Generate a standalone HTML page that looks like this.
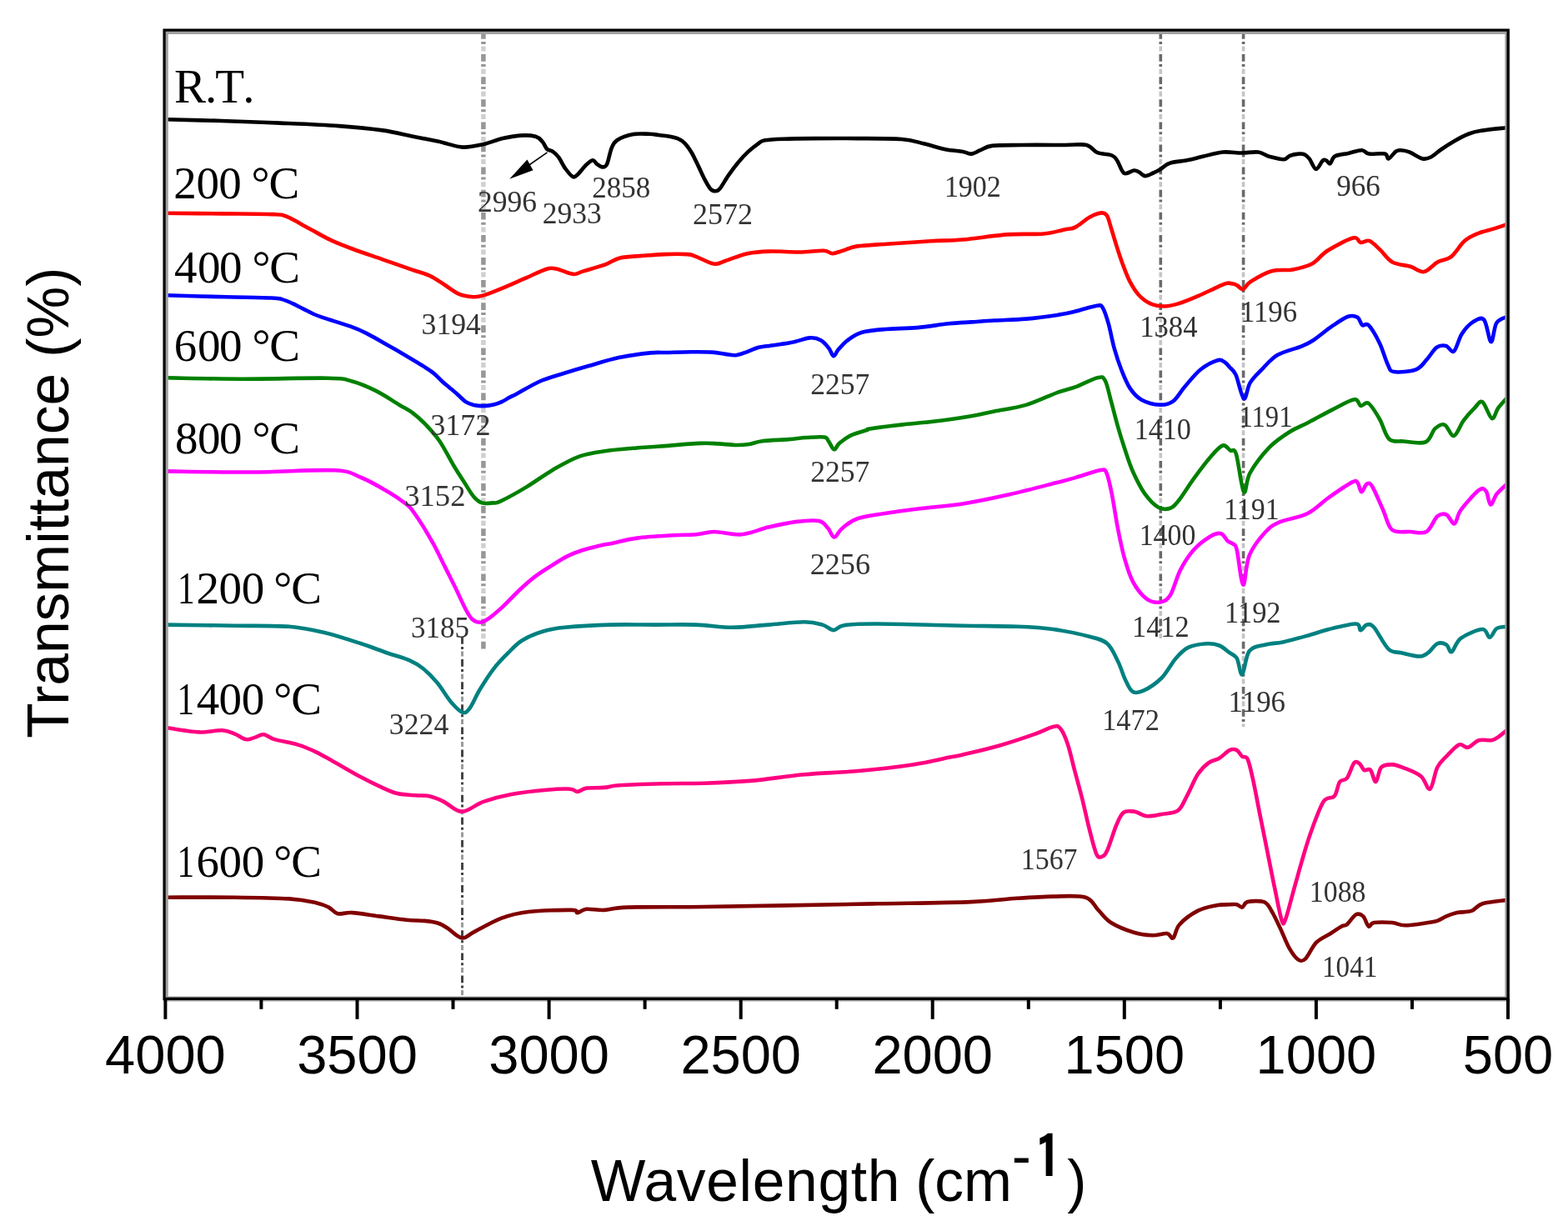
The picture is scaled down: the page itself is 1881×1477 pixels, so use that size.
<!DOCTYPE html><html><head><meta charset="utf-8"><title>FTIR spectra</title><style>html,body{margin:0;padding:0;background:#fff;overflow:hidden}svg{display:block}</style></head><body><svg width="1881" height="1477" viewBox="0 0 1881 1477">
<rect width="1881" height="1477" fill="#fff"/>
<g fill="none">
<line x1="579.9" y1="38" x2="579.9" y2="779" stroke="#d0d0d0" stroke-width="5.5" stroke-dasharray="6 21.1" stroke-dashoffset="-17.6"/>
<line x1="579.9" y1="38" x2="579.9" y2="779" stroke="#979797" stroke-width="5.5" stroke-dasharray="8.7 3.2 3 12.2"/>
<line x1="554.5" y1="764" x2="554.5" y2="1196" stroke="#9a9a9a" stroke-width="3" stroke-dasharray="6 21.1" stroke-dashoffset="-17.6"/>
<line x1="554.5" y1="764" x2="554.5" y2="1196" stroke="#454545" stroke-width="3" stroke-dasharray="8.7 3.2 3 12.2"/>
<line x1="1392.3" y1="38" x2="1392.3" y2="766" stroke="#c4c4c4" stroke-width="3.6" stroke-dasharray="6 21.1" stroke-dashoffset="-17.6"/>
<line x1="1392.3" y1="38" x2="1392.3" y2="766" stroke="#6a6a6a" stroke-width="3.6" stroke-dasharray="8.7 3.2 3 12.2"/>
<line x1="1491.6" y1="38" x2="1491.6" y2="872" stroke="#c4c4c4" stroke-width="3.6" stroke-dasharray="6 21.1" stroke-dashoffset="-17.6"/>
<line x1="1491.6" y1="38" x2="1491.6" y2="872" stroke="#6a6a6a" stroke-width="3.6" stroke-dasharray="8.7 3.2 3 12.2"/>
</g>

<path d="M198.5,143.2 C209.7,143.5 242.5,144.3 265.4,145.0 C288.3,145.7 312.3,146.6 335.8,147.6 C359.3,148.6 385.7,149.6 406.2,151.1 C426.7,152.6 444.3,154.3 459.0,156.4 C473.7,158.5 483.2,161.2 494.2,163.4 C505.2,165.6 518.6,168.3 525.0,169.6 C531.4,170.9 527.5,170.2 532.6,171.4 C537.7,172.6 547.6,176.3 555.5,176.6 C563.4,176.9 572.2,174.8 580.1,173.1 C588.0,171.3 595.7,167.8 603.0,166.1 C610.3,164.3 617.5,163.0 624.1,162.6 C630.7,162.2 638.0,162.6 642.4,163.8 C646.8,165.0 648.4,167.5 650.7,170.0 C653.0,172.5 654.2,177.0 656.3,179.0 C658.4,181.0 660.9,180.2 663.2,181.8 C665.5,183.4 667.6,185.2 670.1,188.7 C672.6,192.1 675.5,198.6 678.4,202.5 C681.3,206.4 684.9,211.2 687.4,212.2 C689.9,213.2 691.1,211.0 693.6,208.7 C696.1,206.4 699.7,201.2 702.6,198.4 C705.5,195.7 708.6,192.4 710.9,192.2 C713.2,192.0 714.4,195.6 716.4,197.0 C718.4,198.4 720.6,200.4 722.6,200.4 C724.6,200.4 726.2,200.8 728.1,197.0 C730.0,193.2 731.6,182.4 733.7,177.6 C735.8,172.8 736.2,170.8 740.6,168.0 C745.0,165.2 753.6,162.3 760.0,161.1 C766.4,159.9 774.0,160.7 779.0,160.8 C784.0,161.0 786.2,161.5 790.0,162.0 C793.8,162.5 798.0,162.8 802.0,163.6 C806.0,164.4 810.6,165.2 813.9,166.7 C817.2,168.1 819.2,169.5 821.9,172.3 C824.6,175.1 827.2,179.0 829.9,183.5 C832.5,188.0 835.1,194.0 837.8,199.4 C840.4,204.8 843.4,211.7 845.8,216.2 C848.2,220.7 850.2,224.4 852.2,226.6 C854.2,228.8 855.9,229.3 857.8,229.3 C859.7,229.3 860.8,229.7 863.4,226.6 C866.0,223.5 870.0,215.9 873.7,210.6 C877.4,205.3 881.7,199.5 885.7,194.7 C889.7,189.9 893.7,185.6 897.7,181.9 C901.7,178.2 906.3,174.6 909.6,172.3 C912.9,170.0 912.5,169.2 917.6,168.3 C922.7,167.4 930.3,167.1 940.0,166.7 C949.7,166.3 961.0,166.2 975.8,166.1 C990.6,166.0 1011.0,165.9 1028.6,166.1 C1046.2,166.2 1068.2,166.0 1081.4,167.0 C1094.6,168.0 1099.0,170.1 1107.8,172.2 C1116.6,174.2 1126.3,177.7 1134.2,179.3 C1142.1,180.9 1149.8,181.0 1155.0,181.9 C1160.2,182.8 1162.1,184.9 1165.6,184.6 C1169.1,184.3 1172.0,181.8 1176.1,180.2 C1180.2,178.6 1182.0,175.9 1190.2,174.9 C1198.4,173.9 1210.7,174.2 1225.4,174.0 C1240.1,173.8 1265.2,174.0 1278.2,174.0 C1291.2,174.0 1296.9,172.4 1303.3,173.9 C1309.7,175.4 1311.5,181.1 1316.6,183.2 C1321.7,185.3 1329.9,184.8 1333.9,186.5 C1337.9,188.2 1338.1,189.6 1340.5,193.2 C1342.9,196.8 1345.2,205.9 1348.5,207.8 C1351.8,209.7 1357.4,204.7 1360.4,204.5 C1363.4,204.3 1364.3,205.4 1366.5,206.5 C1368.7,207.6 1370.9,210.9 1373.7,211.1 C1376.5,211.3 1380.6,208.7 1383.5,207.5 C1386.4,206.3 1387.8,205.8 1391.0,203.8 C1394.2,201.9 1397.7,197.7 1403.0,195.8 C1408.3,193.9 1416.3,193.8 1422.9,192.5 C1429.5,191.2 1435.5,189.5 1442.8,187.8 C1450.1,186.1 1459.0,183.2 1466.8,182.5 C1474.6,181.8 1482.3,183.5 1489.4,183.5 C1496.5,183.5 1503.8,181.8 1509.3,182.5 C1514.8,183.2 1517.5,186.4 1522.6,187.8 C1527.7,189.2 1535.9,191.4 1540.0,191.2 C1544.1,191.0 1544.4,187.9 1547.3,186.8 C1550.2,185.7 1554.6,184.8 1557.5,184.6 C1560.4,184.3 1562.7,184.3 1564.9,185.3 C1567.1,186.3 1568.4,187.5 1570.7,190.4 C1573.0,193.3 1576.0,202.5 1578.7,202.9 C1581.4,203.3 1584.7,194.3 1586.8,192.6 C1588.9,190.9 1589.7,192.0 1591.2,192.6 C1592.7,193.2 1593.9,197.2 1595.6,196.3 C1597.3,195.5 1597.8,189.6 1601.4,187.5 C1605.1,185.4 1612.1,185.1 1617.5,183.9 C1622.9,182.7 1629.5,180.1 1633.6,180.2 C1637.7,180.3 1637.7,183.9 1642.3,184.6 C1646.9,185.3 1657.4,183.6 1661.3,184.6 C1665.2,185.6 1663.5,190.9 1665.7,190.4 C1667.9,189.9 1672.1,183.4 1674.5,181.7 C1676.9,180.0 1677.6,180.1 1680.3,180.2 C1683.0,180.3 1686.2,180.7 1690.6,182.4 C1695.0,184.1 1702.3,189.4 1706.7,190.4 C1711.1,191.4 1713.2,190.0 1716.9,188.2 C1720.6,186.4 1724.0,182.7 1728.6,179.5 C1733.2,176.3 1739.1,172.4 1744.7,169.2 C1750.3,166.0 1756.9,162.6 1762.2,160.5 C1767.5,158.4 1769.2,158.0 1776.8,156.8 C1784.3,155.6 1802.4,153.8 1807.5,153.2" fill="none" stroke="#000000" stroke-width="4.6" stroke-linejoin="round" stroke-linecap="round"/>
<path d="M198.5,255.8 C209.7,255.9 244.0,256.2 265.4,256.4 C286.8,256.6 313.8,256.5 327.0,257.1 C340.2,257.7 337.3,257.3 344.6,260.2 C351.9,263.1 362.2,269.6 371.0,274.3 C379.8,279.0 388.6,284.3 397.4,288.4 C406.2,292.5 413.5,295.2 423.8,299.0 C434.1,302.8 447.3,307.2 459.0,311.3 C470.7,315.4 484.9,320.4 494.2,323.6 C503.5,326.8 508.6,327.7 515.0,330.6 C521.4,333.5 526.7,337.5 532.6,341.2 C538.5,344.9 544.3,350.1 550.2,352.6 C556.1,355.1 562.8,355.9 567.8,356.2 C572.8,356.5 574.2,356.2 580.1,354.4 C586.0,352.6 594.8,349.0 603.0,345.6 C611.2,342.2 620.6,338.0 629.4,334.2 C638.2,330.4 649.3,324.6 655.8,322.7 C662.2,320.8 662.8,321.7 668.1,322.7 C673.4,323.7 682.2,328.4 687.5,328.9 C692.8,329.3 693.3,327.3 699.8,325.4 C706.2,323.5 718.9,320.0 726.2,317.4 C733.5,314.8 736.5,311.2 743.8,309.5 C751.1,307.8 761.4,307.6 770.2,306.9 C779.0,306.2 787.5,305.4 796.6,305.1 C805.7,304.8 818.3,304.7 824.7,305.1 C831.1,305.6 829.8,305.9 835.0,307.8 C840.2,309.7 850.2,315.7 856.1,316.6 C862.0,317.5 863.5,315.1 870.2,313.0 C877.0,310.9 887.8,306.1 896.6,304.2 C905.4,302.3 912.7,301.9 923.0,301.6 C933.3,301.3 947.4,302.6 958.2,302.5 C969.1,302.4 981.4,300.4 988.1,300.7 C994.9,301.0 994.9,304.2 998.7,304.2 C1002.5,304.2 1006.0,302.2 1011.0,300.7 C1016.0,299.2 1019.8,296.7 1028.6,295.4 C1037.4,294.1 1049.1,293.8 1063.8,292.8 C1078.5,291.8 1101.4,290.2 1116.6,289.3 C1131.8,288.4 1139.8,288.8 1155.0,287.5 C1170.2,286.2 1191.7,282.6 1207.8,281.4 C1223.9,280.2 1240.1,281.5 1251.8,280.5 C1263.5,279.5 1271.8,276.5 1278.2,275.2 C1284.6,273.9 1285.2,275.1 1290.0,272.6 C1294.8,270.2 1302.1,263.4 1307.3,260.5 C1312.5,257.6 1317.6,255.7 1321.1,255.4 C1324.5,255.1 1326.0,255.7 1328.0,258.8 C1330.0,261.9 1331.1,268.0 1333.1,274.3 C1335.1,280.6 1337.7,289.6 1340.0,296.8 C1342.3,304.0 1344.4,310.6 1347.0,317.5 C1349.6,324.4 1352.4,332.2 1355.6,338.2 C1358.8,344.2 1361.9,349.4 1365.9,353.7 C1369.9,358.0 1374.5,361.8 1379.7,364.1 C1384.9,366.4 1391.2,367.5 1397.0,367.5 C1402.8,367.5 1407.6,366.1 1414.2,364.1 C1420.8,362.1 1429.2,358.6 1436.7,355.4 C1444.2,352.2 1453.3,347.7 1459.1,345.1 C1464.8,342.5 1467.9,340.6 1471.2,339.9 C1474.5,339.1 1476.9,340.2 1479.0,340.6 C1481.1,341.0 1482.0,341.3 1484.0,342.4 C1486.0,343.4 1488.6,347.6 1491.3,346.9 C1494.0,346.1 1494.6,341.5 1500.3,337.9 C1506.0,334.3 1517.2,327.6 1525.6,325.2 C1534.0,322.8 1542.8,324.9 1550.9,323.4 C1559.0,321.9 1567.5,320.0 1574.4,316.2 C1581.3,312.4 1584.4,305.9 1592.5,300.8 C1600.6,295.7 1616.6,287.1 1623.2,285.5 C1629.8,283.9 1629.0,290.3 1632.3,290.9 C1635.6,291.5 1639.2,287.6 1643.1,289.1 C1647.0,290.6 1651.3,295.7 1655.8,299.9 C1660.3,304.1 1664.2,311.1 1670.2,314.4 C1676.2,317.7 1685.6,317.9 1691.9,319.8 C1698.2,321.8 1702.8,327.0 1708.2,326.1 C1713.6,325.2 1719.1,317.4 1724.5,314.4 C1729.9,311.4 1735.3,312.3 1740.7,308.1 C1746.1,303.9 1751.6,293.8 1757.0,289.1 C1762.4,284.4 1767.6,282.4 1773.3,280.0 C1779.0,277.6 1785.6,276.4 1791.3,274.6 C1797.0,272.8 1804.9,270.1 1807.6,269.2" fill="none" stroke="#ff0000" stroke-width="4.6" stroke-linejoin="round" stroke-linecap="round"/>
<path d="M198.8,354.3 C210.8,354.6 249.7,355.8 270.8,356.3 C291.9,356.8 314.2,357.0 325.5,357.5 C336.8,358.0 334.1,358.0 338.3,359.1 C342.6,360.2 346.8,362.3 351.0,364.2 C355.2,366.1 359.5,368.5 363.8,370.6 C368.1,372.7 372.2,375.1 376.6,377.0 C381.0,378.9 382.7,379.4 390.0,381.9 C397.3,384.3 412.2,388.7 420.5,391.7 C428.8,394.7 432.3,396.2 440.0,400.1 C447.7,404.0 457.7,409.9 466.6,415.0 C475.5,420.1 486.6,426.5 493.2,430.4 C499.8,434.3 501.6,435.4 506.0,438.2 C510.4,441.0 515.7,444.2 519.7,447.4 C523.7,450.6 526.7,454.2 530.0,457.2 C533.3,460.2 536.4,462.7 539.6,465.4 C542.8,468.1 545.9,470.7 549.1,473.5 C552.3,476.3 555.5,480.0 558.7,482.1 C561.9,484.2 564.7,485.1 568.3,485.9 C571.9,486.7 576.2,487.2 580.2,487.1 C584.2,487.0 588.6,486.3 592.2,485.5 C595.8,484.7 598.6,483.6 601.8,482.1 C605.0,480.7 608.3,478.4 611.3,476.8 C614.3,475.2 613.9,475.7 620.0,472.5 C626.1,469.3 638.4,461.6 647.7,457.5 C657.1,453.4 666.6,451.0 676.1,448.0 C685.6,445.0 693.5,442.6 704.5,439.5 C715.5,436.4 729.8,431.8 742.4,429.1 C755.0,426.4 770.7,424.4 780.3,423.4 C789.9,422.4 791.9,423.2 800.0,423.0 C808.1,422.8 819.7,422.4 828.7,422.3 C837.7,422.2 847.3,422.2 854.2,422.6 C861.1,423.0 865.4,424.3 870.2,424.9 C875.0,425.5 878.6,426.6 882.9,426.2 C887.1,425.8 891.4,423.8 895.7,422.3 C900.0,420.8 904.5,418.4 908.5,417.2 C912.5,416.0 913.3,416.3 920.0,415.3 C926.7,414.3 940.1,412.8 948.7,411.1 C957.3,409.5 965.5,405.9 971.5,405.4 C977.5,404.9 980.9,406.1 984.7,408.2 C988.5,410.2 991.7,414.5 994.2,417.7 C996.7,420.9 998.0,426.9 999.9,427.2 C1001.8,427.5 1002.8,422.8 1005.6,419.6 C1008.5,416.4 1012.3,411.7 1017.0,408.2 C1021.7,404.7 1026.4,401.0 1034.0,398.8 C1041.6,396.6 1051.3,395.9 1062.4,395.0 C1073.5,394.1 1087.8,394.2 1100.4,393.1 C1113.1,392.0 1127.5,389.4 1138.3,388.3 C1149.1,387.2 1155.9,387.0 1165.0,386.4 C1174.1,385.8 1181.9,385.1 1192.9,384.5 C1203.9,383.9 1218.2,383.7 1230.8,382.6 C1243.4,381.5 1258.8,379.4 1268.7,377.9 C1278.6,376.4 1282.1,375.5 1290.0,373.6 C1297.9,371.7 1310.4,367.4 1315.9,366.7 C1321.4,366.0 1320.5,365.6 1322.8,369.2 C1325.1,372.8 1327.4,380.1 1329.7,388.2 C1332.0,396.3 1334.0,408.4 1336.6,417.6 C1339.2,426.8 1342.0,435.4 1345.2,443.5 C1348.4,451.6 1351.6,459.9 1355.6,465.9 C1359.6,471.9 1363.4,476.4 1369.4,479.7 C1375.4,483.0 1385.5,485.4 1391.8,485.7 C1398.1,486.0 1402.4,485.0 1407.3,481.4 C1412.2,477.8 1415.6,470.5 1421.1,464.2 C1426.6,457.9 1433.5,448.8 1440.1,443.5 C1446.7,438.2 1455.9,433.6 1460.8,432.2 C1465.7,430.8 1467.1,433.4 1469.5,434.8 C1471.9,436.2 1472.8,438.0 1475.0,440.5 C1477.2,443.0 1479.8,443.6 1482.6,449.9 C1485.4,456.2 1489.3,476.8 1492.1,478.4 C1494.9,480.0 1496.1,465.1 1499.6,459.4 C1503.1,453.7 1507.5,449.7 1512.9,444.2 C1518.3,438.7 1524.0,430.9 1531.9,426.2 C1539.8,421.5 1553.0,418.8 1560.3,415.8 C1567.6,412.8 1569.2,412.3 1575.5,408.2 C1581.8,404.1 1591.2,395.9 1598.2,391.2 C1605.2,386.5 1612.2,381.5 1617.2,379.8 C1622.2,378.1 1625.7,379.1 1628.5,380.8 C1631.3,382.5 1632.0,388.6 1634.2,390.2 C1636.4,391.8 1638.3,386.6 1641.8,390.2 C1645.3,393.8 1651.3,404.2 1655.1,412.0 C1658.9,419.8 1661.7,431.0 1664.5,436.7 C1667.3,442.4 1666.4,445.0 1672.1,446.1 C1677.8,447.2 1692.1,445.8 1698.7,443.3 C1705.3,440.8 1707.8,435.4 1711.9,431.0 C1716.0,426.6 1719.5,419.5 1723.3,416.8 C1727.1,414.1 1731.2,414.1 1734.7,414.9 C1738.2,415.7 1740.9,423.9 1744.1,421.5 C1747.2,419.1 1749.8,406.6 1753.6,400.7 C1757.4,394.8 1762.5,389.2 1766.9,386.4 C1771.3,383.5 1776.6,379.7 1780.2,383.6 C1783.8,387.6 1786.2,409.5 1788.7,410.1 C1791.2,410.7 1792.0,392.4 1795.3,387.4 C1798.6,382.3 1806.4,381.1 1808.6,379.8" fill="none" stroke="#0000ff" stroke-width="4.6" stroke-linejoin="round" stroke-linecap="round"/>
<path d="M198.8,453.3 C214.0,453.5 257.3,454.6 289.8,454.7 C322.3,454.8 371.9,453.2 394.0,453.7 C416.1,454.2 412.9,455.0 422.4,457.5 C431.9,460.0 441.4,464.2 450.9,468.9 C460.4,473.6 471.9,481.5 479.3,485.9 C486.7,490.3 489.7,491.4 495.0,495.4 C500.3,499.4 505.8,504.3 511.2,510.0 C516.6,515.7 521.9,521.2 527.5,529.5 C533.1,537.8 540.2,551.8 545.1,560.0 C550.0,568.2 553.2,572.8 557.0,578.7 C560.8,584.7 564.6,591.6 568.1,595.7 C571.6,599.8 574.5,602.1 578.3,603.4 C582.1,604.7 587.4,603.7 591.0,603.4 C594.6,603.1 593.2,604.8 600.0,601.6 C606.8,598.4 621.3,590.5 631.9,584.1 C642.5,577.7 653.2,569.5 663.8,563.4 C674.4,557.3 685.1,551.1 695.7,547.4 C706.3,543.7 717.0,542.6 727.6,541.0 C738.2,539.4 748.9,538.7 759.5,537.8 C770.1,536.9 778.0,536.5 791.4,535.5 C804.8,534.5 828.4,532.4 840.0,531.9 C851.6,531.4 854.2,532.0 861.3,532.4 C868.4,532.8 876.3,533.9 882.5,534.0 C888.7,534.1 893.2,533.8 898.5,533.0 C903.8,532.2 906.4,530.2 914.4,529.2 C922.4,528.2 937.4,527.8 946.3,527.1 C955.2,526.4 960.5,525.4 967.6,525.0 C974.7,524.6 984.5,523.7 988.9,524.5 C993.3,525.3 992.2,527.3 994.2,529.8 C996.2,532.3 998.5,538.9 1000.6,539.3 C1002.7,539.6 1003.5,534.7 1006.9,531.9 C1010.3,529.1 1015.3,524.9 1020.8,522.3 C1026.3,519.6 1036.2,517.3 1040.0,516.0 C1043.8,514.7 1036.6,515.5 1043.5,514.4 C1050.4,513.3 1068.8,511.0 1081.4,509.6 C1094.0,508.2 1105.4,507.5 1119.3,505.8 C1133.2,504.1 1152.7,501.2 1165.0,499.2 C1177.3,497.1 1181.9,495.7 1192.9,493.5 C1203.9,491.3 1218.2,489.7 1230.8,485.9 C1243.4,482.1 1258.8,474.4 1268.7,470.8 C1278.6,467.2 1282.0,467.3 1290.0,464.4 C1298.0,461.5 1310.5,454.5 1316.4,453.2 C1322.3,451.9 1322.9,451.7 1325.6,456.3 C1328.3,460.9 1330.2,471.5 1332.7,480.6 C1335.2,489.7 1338.1,501.6 1340.8,511.1 C1343.5,520.6 1345.9,528.4 1348.9,537.5 C1352.0,546.6 1355.0,556.9 1359.1,566.0 C1363.2,575.1 1368.2,585.3 1373.3,592.4 C1378.4,599.5 1384.5,605.8 1389.6,608.7 C1394.7,611.6 1399.7,611.1 1403.8,609.7 C1407.9,608.3 1409.3,606.4 1414.0,600.5 C1418.7,594.6 1425.8,582.9 1432.2,574.1 C1438.6,565.3 1446.8,554.3 1452.6,547.7 C1458.4,541.1 1462.9,535.7 1466.8,534.5 C1470.7,533.3 1473.3,538.8 1476.0,540.5 C1478.7,542.2 1480.2,536.4 1482.9,544.7 C1485.6,553.0 1489.3,586.4 1492.1,590.2 C1494.9,594.0 1494.5,576.2 1499.6,567.4 C1504.6,558.5 1514.5,545.3 1522.4,537.1 C1530.3,528.9 1539.1,523.2 1547.0,518.2 C1554.9,513.2 1561.3,511.2 1569.8,506.8 C1578.3,502.4 1589.0,496.2 1598.2,491.6 C1607.4,487.0 1619.0,480.1 1624.7,479.3 C1630.4,478.5 1629.5,486.1 1632.3,486.9 C1635.1,487.7 1638.0,481.3 1641.8,484.0 C1645.6,486.7 1651.0,495.9 1655.1,503.0 C1659.2,510.1 1661.7,522.3 1666.4,526.7 C1671.1,531.1 1676.2,528.9 1683.5,529.5 C1690.8,530.1 1703.7,533.0 1710.0,530.5 C1716.3,528.0 1717.6,517.9 1721.4,514.4 C1725.2,510.9 1729.0,508.2 1732.8,509.6 C1736.6,511.0 1740.3,523.7 1744.1,522.9 C1747.9,522.1 1751.4,510.4 1755.5,504.9 C1759.6,499.4 1765.0,493.5 1768.8,489.7 C1772.6,485.9 1774.8,480.1 1778.3,482.2 C1781.8,484.2 1786.5,500.8 1789.7,502.0 C1792.9,503.2 1794.1,493.9 1797.2,489.7 C1800.3,485.4 1806.7,478.7 1808.6,476.5" fill="none" stroke="#008000" stroke-width="4.6" stroke-linejoin="round" stroke-linecap="round"/>
<path d="M199.3,565.4 C216.6,565.6 269.7,566.7 303.3,566.5 C336.9,566.3 379.1,563.2 400.8,564.3 C422.5,565.4 422.5,568.7 433.3,573.0 C444.1,577.3 456.9,585.0 465.9,590.3 C474.9,595.6 482.6,601.2 487.5,605.0 C492.4,608.8 491.6,608.3 495.0,612.8 C498.4,617.3 503.6,625.1 507.8,631.9 C512.0,638.7 516.2,645.7 520.5,653.6 C524.8,661.5 529.0,670.6 533.3,679.1 C537.5,687.6 541.8,695.9 546.0,704.6 C550.2,713.3 555.4,725.0 558.8,731.4 C562.2,737.8 563.5,740.3 566.5,742.9 C569.5,745.5 573.3,746.9 576.7,746.7 C580.1,746.5 582.4,744.8 586.9,741.6 C591.4,738.4 597.5,733.1 603.5,727.6 C609.5,722.1 616.2,714.5 622.6,708.5 C629.0,702.5 635.3,696.8 641.7,691.9 C648.1,687.0 654.5,683.1 660.9,679.1 C667.3,675.1 673.6,670.8 680.0,667.6 C686.4,664.4 692.7,662.1 699.1,660.0 C705.5,657.9 712.3,656.3 718.3,654.9 C724.3,653.5 727.4,653.2 735.0,651.7 C742.6,650.2 752.1,647.2 764.2,645.6 C776.3,644.0 795.7,643.0 807.5,642.3 C819.3,641.6 826.8,642.0 835.0,641.3 C843.2,640.6 847.7,638.0 856.7,638.0 C865.7,638.0 878.4,642.2 889.2,641.3 C900.0,640.4 910.9,635.1 921.7,632.6 C932.5,630.1 944.1,627.4 954.2,626.1 C964.3,624.8 975.8,623.7 982.3,625.0 C988.8,626.3 990.1,630.5 993.2,633.7 C996.3,637.0 997.9,644.5 1000.8,644.5 C1003.7,644.5 1005.6,637.5 1010.5,633.7 C1015.4,629.9 1019.5,625.0 1030.0,621.8 C1040.5,618.5 1059.0,616.4 1073.4,614.2 C1087.9,612.0 1103.1,610.4 1116.7,608.8 C1130.3,607.2 1139.1,607.0 1155.0,604.4 C1170.9,601.8 1193.0,597.3 1211.9,593.0 C1230.9,588.7 1255.7,582.1 1268.7,578.8 C1281.7,575.5 1281.4,575.6 1290.0,573.1 C1298.6,570.6 1314.2,564.9 1320.5,564.0 C1326.8,563.1 1325.4,563.3 1327.6,568.0 C1329.8,572.7 1331.5,581.5 1333.7,592.4 C1335.9,603.2 1338.3,620.2 1340.8,633.1 C1343.3,646.0 1345.9,658.8 1348.9,669.6 C1352.0,680.4 1354.7,690.0 1359.1,698.1 C1363.5,706.2 1369.9,714.3 1375.3,718.4 C1380.7,722.5 1386.8,723.2 1391.6,722.5 C1396.3,721.8 1399.7,720.7 1403.8,714.3 C1407.9,707.9 1411.3,693.0 1416.0,683.9 C1420.7,674.8 1426.1,666.3 1432.2,659.5 C1438.3,652.7 1447.2,646.4 1452.6,643.2 C1458.0,640.0 1461.4,639.2 1464.8,640.2 C1468.2,641.2 1470.5,647.2 1472.9,649.3 C1475.3,651.3 1477.2,650.8 1479.0,652.5 C1480.8,654.2 1481.7,651.5 1483.7,659.7 C1485.8,667.9 1488.8,700.4 1491.3,701.5 C1493.8,702.6 1494.3,676.8 1498.8,666.2 C1503.3,655.6 1512.1,644.7 1518.3,638.0 C1524.5,631.3 1527.4,629.7 1535.7,626.1 C1544.0,622.5 1558.5,621.2 1568.2,616.3 C1578.0,611.4 1585.2,603.1 1594.2,596.8 C1603.2,590.5 1616.5,581.3 1622.3,578.4 C1628.1,575.5 1627.0,577.5 1628.8,579.5 C1630.6,581.5 1631.4,590.1 1633.2,590.3 C1635.0,590.5 1637.5,581.7 1639.7,580.6 C1641.9,579.5 1643.0,578.6 1646.2,583.8 C1649.5,589.0 1655.2,603.3 1659.2,612.0 C1663.2,620.7 1664.6,631.5 1670.0,635.8 C1675.4,640.1 1684.8,637.6 1691.7,638.0 C1698.6,638.4 1705.8,641.1 1711.2,638.0 C1716.6,634.9 1720.2,623.0 1724.2,619.6 C1728.2,616.2 1731.6,616.0 1735.0,617.4 C1738.4,618.8 1741.9,629.2 1744.8,628.3 C1747.7,627.4 1747.5,618.7 1752.4,612.0 C1757.3,605.3 1769.0,592.0 1774.0,588.2 C1779.0,584.4 1780.4,586.4 1782.7,589.3 C1785.0,592.2 1785.9,605.0 1788.1,605.5 C1790.3,606.0 1792.3,596.8 1795.7,592.5 C1799.1,588.2 1806.4,582.1 1808.6,580.0" fill="none" stroke="#ff00ff" stroke-width="4.6" stroke-linejoin="round" stroke-linecap="round"/>
<path d="M199.3,749.6 C213.0,749.8 257.1,750.3 281.7,750.7 C306.3,751.1 328.6,750.4 346.7,751.8 C364.8,753.2 375.6,755.9 390.0,759.3 C404.4,762.7 420.7,768.2 433.3,772.3 C445.9,776.4 455.8,780.4 465.4,783.7 C475.0,787.0 483.8,789.1 490.8,792.2 C497.9,795.3 502.1,797.8 507.7,802.3 C513.3,806.8 519.0,812.5 524.6,819.3 C530.2,826.1 536.5,837.1 541.6,843.0 C546.7,848.9 551.4,853.7 555.1,854.8 C558.8,855.9 560.2,854.2 563.6,849.7 C567.0,845.2 570.6,835.6 575.4,827.7 C580.2,819.8 586.6,809.6 592.3,802.3 C597.9,795.0 603.6,789.3 609.3,783.7 C614.9,778.1 619.2,772.9 626.2,768.5 C633.2,764.1 643.1,760.1 651.6,757.5 C660.1,754.9 664.1,754.1 677.5,752.8 C690.9,751.5 713.6,750.1 731.7,749.6 C749.8,749.1 768.7,749.6 785.9,749.6 C803.1,749.6 819.6,749.1 835.0,749.6 C850.4,750.1 863.8,752.8 878.3,752.8 C892.8,752.8 907.2,750.7 921.7,749.6 C936.2,748.5 954.2,746.3 965.0,746.3 C975.8,746.3 980.9,748.0 986.7,749.6 C992.5,751.2 995.4,756.0 999.7,756.1 C1004.0,756.2 1004.0,751.5 1012.7,750.2 C1021.4,748.9 1028.0,748.4 1051.7,748.5 C1075.4,748.6 1127.0,750.2 1155.0,750.7 C1183.0,751.2 1202.0,751.1 1220.0,751.8 C1238.0,752.5 1248.8,753.0 1263.3,755.0 C1277.8,757.0 1295.9,760.8 1306.7,763.7 C1317.5,766.6 1322.5,767.2 1328.3,772.3 C1334.1,777.3 1337.7,786.8 1341.3,794.0 C1344.9,801.2 1347.1,809.7 1350.0,815.7 C1352.9,821.7 1355.1,827.6 1358.7,829.8 C1362.3,832.0 1365.9,831.4 1371.7,828.7 C1377.5,826.0 1386.9,820.0 1393.4,813.5 C1399.9,807.0 1405.3,795.8 1410.7,789.7 C1416.1,783.6 1419.8,779.6 1425.9,776.7 C1432.0,773.8 1441.4,772.7 1447.5,772.3 C1453.6,771.9 1458.1,772.7 1462.7,774.5 C1467.3,776.3 1471.5,780.7 1475.0,783.2 C1478.5,785.7 1481.2,785.4 1483.7,789.7 C1486.2,794.0 1487.7,810.7 1490.2,809.2 C1492.7,807.8 1494.1,787.0 1498.8,781.0 C1503.5,775.0 1511.4,775.2 1518.3,773.4 C1525.2,771.6 1531.0,772.2 1540.0,770.2 C1549.0,768.2 1563.5,764.0 1572.5,761.5 C1581.5,759.0 1585.2,757.2 1594.2,755.0 C1603.2,752.8 1620.4,748.3 1626.7,748.5 C1633.0,748.7 1629.9,755.9 1632.1,756.1 C1634.3,756.3 1637.0,750.2 1639.7,749.6 C1642.4,749.0 1644.0,747.9 1648.3,752.8 C1652.6,757.7 1660.3,773.7 1665.7,778.8 C1671.1,783.9 1674.8,781.8 1680.9,783.2 C1687.0,784.7 1697.1,787.5 1702.5,787.5 C1707.9,787.5 1709.7,785.7 1713.3,783.2 C1716.9,780.7 1720.6,773.9 1724.2,772.3 C1727.8,770.7 1732.1,771.8 1735.0,773.4 C1737.9,775.0 1738.6,783.4 1741.5,782.1 C1744.4,780.8 1746.2,770.3 1752.4,765.8 C1758.6,761.3 1772.6,755.2 1778.4,755.0 C1784.2,754.8 1784.1,765.0 1787.0,764.8 C1789.9,764.6 1792.1,756.1 1795.7,753.9 C1799.3,751.7 1806.4,752.1 1808.6,751.8" fill="none" stroke="#008080" stroke-width="4.6" stroke-linejoin="round" stroke-linecap="round"/>
<path d="M199.3,873.0 C205.8,873.9 227.1,877.9 238.3,878.4 C249.5,878.9 259.3,875.9 266.5,876.3 C273.7,876.7 277.0,878.8 281.7,880.6 C286.4,882.4 290.7,886.4 294.7,887.1 C298.7,887.8 301.9,885.9 305.5,884.9 C309.1,883.9 312.3,880.8 316.3,881.2 C320.3,881.6 322.4,885.0 329.3,887.1 C336.2,889.2 349.2,891.1 357.5,893.6 C365.8,896.1 372.0,898.9 379.2,902.3 C386.4,905.7 391.8,909.2 400.8,914.2 C409.8,919.2 424.3,927.7 433.3,932.6 C442.3,937.5 447.8,940.1 455.0,943.4 C462.2,946.6 469.5,950.3 476.7,952.1 C483.9,953.9 492.0,953.8 498.4,954.3 C504.8,954.8 509.4,954.0 515.0,955.3 C520.6,956.5 525.8,958.7 532.3,961.8 C538.8,964.9 546.0,973.8 554.0,973.8 C562.0,973.8 570.2,965.2 580.0,961.8 C589.8,958.4 599.9,955.5 612.5,953.2 C625.1,950.9 643.9,948.9 655.8,947.8 C667.7,946.7 677.9,946.4 684.0,946.7 C690.1,947.1 689.5,950.1 692.7,949.9 C696.0,949.7 698.1,946.4 703.5,945.6 C708.9,944.8 718.7,945.5 725.2,944.9 C731.7,944.3 730.6,943.1 742.5,942.3 C754.4,941.5 779.6,940.6 796.7,940.2 C813.8,939.8 827.8,940.2 845.0,939.7 C862.2,939.2 880.0,938.6 900.0,936.9 C920.0,935.2 943.3,931.3 965.0,929.3 C986.7,927.3 1008.3,927.0 1030.0,925.0 C1051.7,923.0 1077.0,920.1 1095.0,917.4 C1113.0,914.7 1128.3,910.8 1138.3,908.8 C1148.3,906.8 1145.0,907.9 1155.0,905.5 C1165.0,903.1 1183.8,898.9 1198.3,894.7 C1212.8,890.6 1230.9,884.4 1241.7,880.6 C1252.5,876.8 1258.2,873.0 1263.3,871.9 C1268.3,870.8 1269.1,870.7 1272.0,874.1 C1274.9,877.5 1277.8,884.0 1280.7,892.5 C1283.6,901.0 1286.4,914.2 1289.3,925.0 C1292.2,935.8 1295.1,946.0 1298.0,957.5 C1300.9,969.0 1303.8,983.1 1306.7,994.3 C1309.6,1005.5 1312.8,1019.1 1315.3,1024.7 C1317.8,1030.3 1319.6,1028.6 1321.8,1027.9 C1324.0,1027.2 1325.4,1026.6 1328.3,1020.3 C1331.2,1014.0 1336.0,997.6 1339.2,990.0 C1342.5,982.4 1344.2,977.5 1347.8,974.8 C1351.4,972.1 1356.2,973.1 1360.9,973.8 C1365.6,974.5 1370.6,978.7 1376.0,979.2 C1381.4,979.7 1387.2,978.1 1393.4,977.0 C1399.6,975.9 1407.9,976.3 1412.9,972.7 C1418.0,969.1 1419.7,962.5 1423.7,955.3 C1427.7,948.1 1432.4,936.0 1436.7,929.3 C1441.0,922.6 1445.4,918.5 1449.7,915.3 C1454.0,912.0 1458.5,912.3 1462.7,909.8 C1466.9,907.3 1471.5,901.7 1475.0,900.1 C1478.5,898.5 1481.2,898.8 1483.7,900.1 C1486.2,901.4 1488.0,905.9 1490.2,907.7 C1492.4,909.5 1494.5,906.2 1496.7,910.9 C1498.9,915.6 1500.7,924.4 1503.2,935.8 C1505.7,947.2 1508.9,964.8 1511.8,979.2 C1514.7,993.7 1517.6,1008.1 1520.5,1022.5 C1523.4,1036.9 1526.3,1052.1 1529.2,1065.8 C1532.1,1079.5 1535.6,1098.8 1537.8,1104.9 C1540.0,1111.1 1540.0,1108.1 1542.2,1102.7 C1544.4,1097.3 1547.5,1083.9 1550.8,1072.3 C1554.0,1060.7 1558.1,1045.6 1561.7,1033.3 C1565.3,1021.0 1568.2,1010.6 1572.5,998.7 C1576.8,986.8 1583.0,969.0 1587.7,961.8 C1592.4,954.6 1597.5,959.3 1600.7,955.3 C1604.0,951.3 1604.7,941.6 1607.2,938.0 C1609.7,934.4 1612.9,937.5 1615.8,933.7 C1618.7,929.9 1622.0,918.2 1624.5,915.3 C1627.0,912.4 1629.0,914.9 1631.0,916.3 C1633.0,917.7 1634.2,922.6 1636.4,923.9 C1638.6,925.2 1641.7,921.5 1644.0,923.9 C1646.3,926.2 1648.3,938.5 1650.5,938.0 C1652.7,937.5 1653.8,924.1 1657.0,920.7 C1660.2,917.3 1665.3,917.2 1670.0,917.4 C1674.7,917.6 1679.4,919.4 1685.2,921.8 C1691.0,924.1 1699.7,927.4 1704.7,931.5 C1709.8,935.6 1712.2,948.5 1715.5,946.7 C1718.8,944.9 1721.0,927.2 1724.2,920.7 C1727.5,914.2 1730.7,912.2 1735.0,907.7 C1739.3,903.2 1745.9,895.4 1750.2,893.6 C1754.5,891.8 1757.0,897.7 1761.0,896.8 C1765.0,895.9 1769.3,889.6 1774.0,888.2 C1778.7,886.8 1785.2,888.9 1789.2,888.2 C1793.2,887.5 1794.7,886.0 1797.9,883.8 C1801.2,881.6 1806.9,876.6 1808.7,875.2" fill="none" stroke="#ff0080" stroke-width="4.6" stroke-linejoin="round" stroke-linecap="round"/>
<path d="M199.3,1076.7 C213.0,1076.7 257.1,1076.4 281.7,1076.7 C306.3,1077.0 330.4,1077.3 346.7,1078.4 C362.9,1079.5 371.3,1081.5 379.2,1083.2 C387.1,1084.9 390.0,1086.4 394.3,1088.6 C398.6,1090.8 400.5,1095.1 405.2,1096.2 C409.9,1097.3 414.2,1094.6 422.5,1095.1 C430.8,1095.6 444.2,1098.0 455.0,1099.4 C465.8,1100.9 478.5,1102.9 487.5,1103.8 C496.5,1104.7 502.9,1104.3 509.2,1104.9 C515.5,1105.5 520.4,1106.1 525.0,1107.5 C529.6,1108.9 531.9,1110.5 536.7,1113.5 C541.5,1116.5 548.6,1124.7 554.0,1125.4 C559.4,1126.1 561.2,1121.9 569.2,1117.9 C577.2,1113.9 590.9,1105.6 601.7,1101.6 C612.5,1097.6 620.1,1095.6 634.2,1094.0 C648.3,1092.4 676.5,1091.7 686.2,1091.9 C696.0,1092.1 689.8,1095.3 692.7,1095.1 C695.6,1094.9 698.1,1091.3 703.5,1090.8 C708.9,1090.3 716.9,1092.3 725.2,1091.9 C733.5,1091.5 733.4,1089.2 753.4,1088.6 C773.4,1087.9 813.4,1088.4 845.0,1088.0 C876.6,1087.6 908.8,1087.0 943.3,1086.4 C977.8,1085.8 1014.8,1085.0 1051.7,1084.3 C1088.7,1083.6 1137.0,1083.2 1165.0,1082.1 C1193.0,1081.0 1203.6,1078.9 1220.0,1077.8 C1236.4,1076.7 1249.6,1075.8 1263.3,1075.6 C1277.0,1075.4 1293.3,1074.0 1302.3,1076.7 C1311.3,1079.4 1312.4,1086.9 1317.5,1091.9 C1322.6,1097.0 1325.5,1102.5 1332.7,1107.0 C1339.9,1111.5 1352.6,1116.5 1360.9,1119.0 C1369.2,1121.5 1376.0,1122.0 1382.5,1122.2 C1389.0,1122.4 1395.8,1119.5 1399.9,1120.0 C1404.1,1120.5 1404.9,1127.2 1407.4,1125.4 C1409.9,1123.6 1410.1,1114.6 1415.0,1109.2 C1419.9,1103.8 1429.5,1096.7 1436.7,1092.9 C1443.9,1089.1 1452.0,1087.7 1458.4,1086.4 C1464.8,1085.1 1470.8,1085.5 1475.0,1085.3 C1479.2,1085.1 1481.2,1084.8 1483.7,1085.3 C1486.2,1085.8 1488.0,1089.1 1490.2,1088.6 C1492.4,1088.1 1492.4,1083.2 1496.7,1082.1 C1501.0,1081.0 1511.5,1080.5 1516.2,1082.1 C1520.9,1083.7 1521.5,1086.7 1524.8,1091.9 C1528.0,1097.1 1532.1,1105.9 1535.7,1113.5 C1539.3,1121.1 1542.9,1131.1 1546.5,1137.4 C1550.1,1143.7 1554.0,1149.2 1557.3,1151.4 C1560.5,1153.6 1562.4,1153.8 1566.0,1150.4 C1569.6,1147.0 1574.0,1136.0 1579.0,1130.9 C1584.0,1125.8 1591.2,1123.2 1596.3,1120.0 C1601.3,1116.8 1606.0,1113.2 1609.3,1111.4 C1612.5,1109.6 1612.9,1111.6 1615.8,1109.2 C1618.7,1106.8 1623.5,1098.9 1626.7,1097.3 C1630.0,1095.7 1632.8,1097.1 1635.3,1099.4 C1637.8,1101.8 1639.6,1110.1 1641.8,1111.4 C1644.0,1112.7 1643.6,1107.7 1648.3,1107.0 C1653.0,1106.3 1663.8,1106.5 1670.0,1107.0 C1676.2,1107.5 1678.0,1110.3 1685.2,1110.3 C1692.4,1110.3 1706.8,1107.9 1713.3,1107.0 C1719.8,1106.1 1720.6,1106.2 1724.2,1104.9 C1727.8,1103.6 1731.0,1101.0 1735.0,1099.4 C1739.0,1097.8 1743.0,1096.2 1748.0,1095.1 C1753.0,1094.0 1760.2,1094.7 1765.3,1092.9 C1770.4,1091.1 1771.2,1086.5 1778.4,1084.3 C1785.6,1082.1 1803.7,1080.6 1808.7,1079.9" fill="none" stroke="#800000" stroke-width="4.6" stroke-linejoin="round" stroke-linecap="round"/>
<line x1="656.5" y1="182.8" x2="634" y2="198.5" stroke="#000" stroke-width="1.6"/>
<polygon points="611.2,214.7 632.4,191.6 639.5,204.3" fill="#000"/>
<path d="M198.8,38 H1808.4 V1198.4 H198.8 Z" fill="none" stroke="#a0a0a0" stroke-width="6"/>
<path d="M197.1,36.2 H1809.1 V1198.3 H197.1 Z" fill="none" stroke="#000" stroke-width="3.2"/>
<line x1="198.4" y1="1197.8" x2="198.4" y2="1222.8" stroke="#000" stroke-width="4"/>
<line x1="313.4" y1="1197.8" x2="313.4" y2="1210.8" stroke="#000" stroke-width="4"/>
<line x1="428.5" y1="1197.8" x2="428.5" y2="1222.8" stroke="#000" stroke-width="4"/>
<line x1="543.5" y1="1197.8" x2="543.5" y2="1210.8" stroke="#000" stroke-width="4"/>
<line x1="658.6" y1="1197.8" x2="658.6" y2="1222.8" stroke="#000" stroke-width="4"/>
<line x1="773.6" y1="1197.8" x2="773.6" y2="1210.8" stroke="#000" stroke-width="4"/>
<line x1="888.7" y1="1197.8" x2="888.7" y2="1222.8" stroke="#000" stroke-width="4"/>
<line x1="1003.7" y1="1197.8" x2="1003.7" y2="1210.8" stroke="#000" stroke-width="4"/>
<line x1="1118.7" y1="1197.8" x2="1118.7" y2="1222.8" stroke="#000" stroke-width="4"/>
<line x1="1233.8" y1="1197.8" x2="1233.8" y2="1210.8" stroke="#000" stroke-width="4"/>
<line x1="1348.8" y1="1197.8" x2="1348.8" y2="1222.8" stroke="#000" stroke-width="4"/>
<line x1="1463.9" y1="1197.8" x2="1463.9" y2="1210.8" stroke="#000" stroke-width="4"/>
<line x1="1578.9" y1="1197.8" x2="1578.9" y2="1222.8" stroke="#000" stroke-width="4"/>
<line x1="1694.0" y1="1197.8" x2="1694.0" y2="1210.8" stroke="#000" stroke-width="4"/>
<line x1="1809.0" y1="1197.8" x2="1809.0" y2="1222.8" stroke="#000" stroke-width="4"/>
<text x="198.4" y="1288" text-anchor="middle" font-family="'Liberation Sans', Arial, sans-serif" font-size="65">4000</text>
<text x="428.5" y="1288" text-anchor="middle" font-family="'Liberation Sans', Arial, sans-serif" font-size="65">3500</text>
<text x="658.6" y="1288" text-anchor="middle" font-family="'Liberation Sans', Arial, sans-serif" font-size="65">3000</text>
<text x="888.7" y="1288" text-anchor="middle" font-family="'Liberation Sans', Arial, sans-serif" font-size="65">2500</text>
<text x="1118.7" y="1288" text-anchor="middle" font-family="'Liberation Sans', Arial, sans-serif" font-size="65">2000</text>
<text x="1348.8" y="1288" text-anchor="middle" font-family="'Liberation Sans', Arial, sans-serif" font-size="65">1500</text>
<text x="1578.9" y="1288" text-anchor="middle" font-family="'Liberation Sans', Arial, sans-serif" font-size="65">1000</text>
<text x="1809.0" y="1288" text-anchor="middle" font-family="'Liberation Sans', Arial, sans-serif" font-size="65">500</text>
<text transform="translate(81.5,885.7) rotate(-90)" font-family="'Liberation Sans', Arial, sans-serif" font-size="69.5">Transmittance (%)</text>
<text x="708.7" y="1441" font-family="'Liberation Sans', Arial, sans-serif" font-size="69.5" letter-spacing="0.7">Wavelength</text>
<text x="1098.2" y="1441" font-family="'Liberation Sans', Arial, sans-serif" font-size="69.5">(cm</text>
<text x="1213.7" y="1411" font-family="'Liberation Sans', Arial, sans-serif" font-size="69.5">-</text>
<text x="1240.3" y="1412.8" font-family="IPAGothic, 'Liberation Sans', Arial, sans-serif" font-size="69.5" stroke="#000" stroke-width="2.3">1</text>
<text x="1280.2" y="1441" font-family="'Liberation Sans', Arial, sans-serif" font-size="69.5">)</text>
<text x="209.1 246.0 258.3 291.2" y="123.0" font-family="'Liberation Serif', 'Times New Roman', serif" font-size="57">R.T.</text>
<text x="208.2 235.6 262.2 301.6 322.6" y="238.0" font-family="'Liberation Serif', 'Times New Roman', serif" font-size="55">200°C</text>
<text x="209.1 236.9 262.9 302.4 323.3" y="339.2" font-family="'Liberation Serif', 'Times New Roman', serif" font-size="55">400°C</text>
<text x="208.7 236.9 262.9 302.4 323.3" y="433.0" font-family="'Liberation Serif', 'Times New Roman', serif" font-size="55">600°C</text>
<text x="209.9 236.9 262.9 302.4 323.3" y="544.0" font-family="'Liberation Serif', 'Times New Roman', serif" font-size="55">800°C</text>
<text transform="translate(213.0,724.0) scale(0.75,1)" font-family="'Liberation Serif', 'Times New Roman', serif" font-size="55">1</text>
<text x="235.4 262.5 289.8 328.2 349.2" y="724.0" font-family="'Liberation Serif', 'Times New Roman', serif" font-size="55">200°C</text>
<text transform="translate(212.4,856.5) scale(0.75,1)" font-family="'Liberation Serif', 'Times New Roman', serif" font-size="55">1</text>
<text x="235.7 262.5 289.8 328.2 349.2" y="856.5" font-family="'Liberation Serif', 'Times New Roman', serif" font-size="55">400°C</text>
<text transform="translate(212.4,1051.5) scale(0.75,1)" font-family="'Liberation Serif', 'Times New Roman', serif" font-size="55">1</text>
<text x="235.4 262.5 289.8 328.2 349.2" y="1051.5" font-family="'Liberation Serif', 'Times New Roman', serif" font-size="55">600°C</text>
<text transform="translate(573.1,254.3) scale(0.986,1)" font-family="'Liberation Serif', 'Times New Roman', serif" font-size="36" fill="#333">2996</text>
<text transform="translate(650.7,268.1) scale(0.987,1)" font-family="'Liberation Serif', 'Times New Roman', serif" font-size="36" fill="#333">2933</text>
<text transform="translate(710.3,237.3) scale(0.971,1)" font-family="'Liberation Serif', 'Times New Roman', serif" font-size="36" fill="#333">2858</text>
<text transform="translate(831.0,268.7) scale(1.000,1)" font-family="'Liberation Serif', 'Times New Roman', serif" font-size="36" fill="#333">2572</text>
<text transform="translate(1132.9,235.7) scale(0.943,1)" font-family="'Liberation Serif', 'Times New Roman', serif" font-size="36" fill="#333">1902</text>
<text transform="translate(1603.2,235.1) scale(0.975,1)" font-family="'Liberation Serif', 'Times New Roman', serif" font-size="36" fill="#333">966</text>
<text transform="translate(505.6,401.2) scale(0.990,1)" font-family="'Liberation Serif', 'Times New Roman', serif" font-size="36" fill="#333">3194</text>
<text transform="translate(1367.2,403.8) scale(0.962,1)" font-family="'Liberation Serif', 'Times New Roman', serif" font-size="36" fill="#333">1384</text>
<text transform="translate(1487.9,385.5) scale(0.966,1)" font-family="'Liberation Serif', 'Times New Roman', serif" font-size="36" fill="#333">1196</text>
<text transform="translate(972.3,473.0) scale(0.988,1)" font-family="'Liberation Serif', 'Times New Roman', serif" font-size="36" fill="#333">2257</text>
<text transform="translate(516.2,522.3) scale(1.004,1)" font-family="'Liberation Serif', 'Times New Roman', serif" font-size="36" fill="#333">3172</text>
<text transform="translate(1360.7,527.0) scale(0.947,1)" font-family="'Liberation Serif', 'Times New Roman', serif" font-size="36" fill="#333">1410</text>
<text transform="translate(1486.5,511.8) scale(0.905,1)" font-family="'Liberation Serif', 'Times New Roman', serif" font-size="36" fill="#333">1191</text>
<text transform="translate(485.3,606.9) scale(1.016,1)" font-family="'Liberation Serif', 'Times New Roman', serif" font-size="36" fill="#333">3152</text>
<text transform="translate(972.3,578.2) scale(0.988,1)" font-family="'Liberation Serif', 'Times New Roman', serif" font-size="36" fill="#333">2257</text>
<text transform="translate(1366.7,653.5) scale(0.940,1)" font-family="'Liberation Serif', 'Times New Roman', serif" font-size="36" fill="#333">1400</text>
<text transform="translate(1468.2,623.2) scale(0.941,1)" font-family="'Liberation Serif', 'Times New Roman', serif" font-size="36" fill="#333">1191</text>
<text transform="translate(971.7,689.2) scale(1.004,1)" font-family="'Liberation Serif', 'Times New Roman', serif" font-size="36" fill="#333">2256</text>
<text transform="translate(493.1,764.6) scale(0.970,1)" font-family="'Liberation Serif', 'Times New Roman', serif" font-size="36" fill="#333">3185</text>
<text transform="translate(1358.0,764.0) scale(0.954,1)" font-family="'Liberation Serif', 'Times New Roman', serif" font-size="36" fill="#333">1412</text>
<text transform="translate(1469.0,746.6) scale(0.956,1)" font-family="'Liberation Serif', 'Times New Roman', serif" font-size="36" fill="#333">1192</text>
<text transform="translate(466.8,881.3) scale(0.993,1)" font-family="'Liberation Serif', 'Times New Roman', serif" font-size="36" fill="#333">3224</text>
<text transform="translate(1322.2,875.6) scale(0.954,1)" font-family="'Liberation Serif', 'Times New Roman', serif" font-size="36" fill="#333">1472</text>
<text transform="translate(1473.6,853.9) scale(0.969,1)" font-family="'Liberation Serif', 'Times New Roman', serif" font-size="36" fill="#333">1196</text>
<text transform="translate(1224.8,1043.4) scale(0.940,1)" font-family="'Liberation Serif', 'Times New Roman', serif" font-size="36" fill="#333">1567</text>
<text transform="translate(1570.8,1082.4) scale(0.940,1)" font-family="'Liberation Serif', 'Times New Roman', serif" font-size="36" fill="#333">1088</text>
<text transform="translate(1586.0,1172.3) scale(0.921,1)" font-family="'Liberation Serif', 'Times New Roman', serif" font-size="36" fill="#333">1041</text>
</svg></body></html>
